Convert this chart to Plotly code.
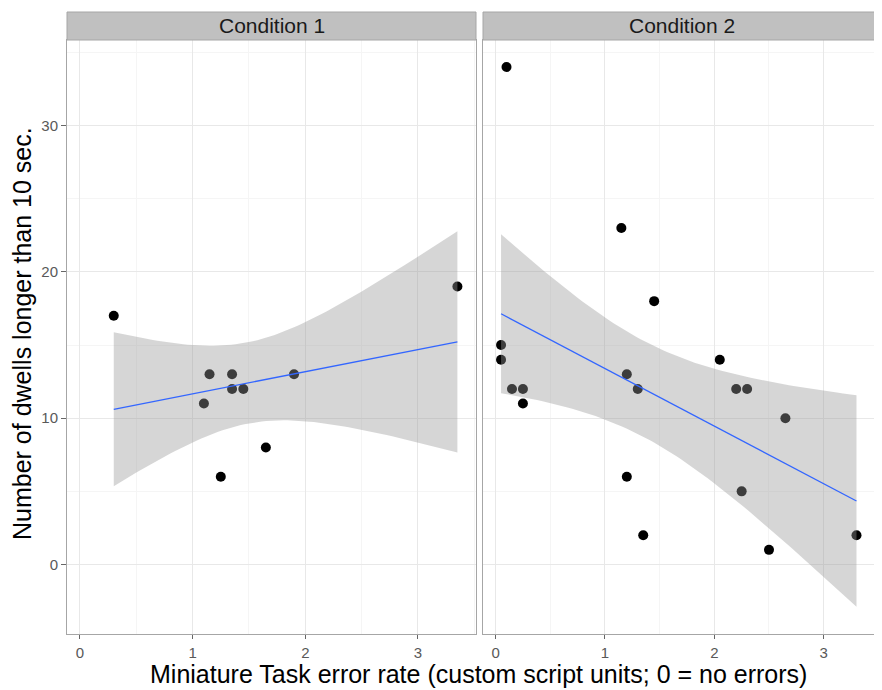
import numpy as np
import plotly.graph_objects as go

# ---- data ----
cond1_x = [0.3, 1.1, 1.15, 1.25, 1.35, 1.35, 1.45, 1.65, 1.9, 3.35]
cond1_y = [17, 11, 13, 6, 13, 12, 12, 8, 13, 19]
cond2_x = [0.05, 0.05, 0.1, 0.15, 0.25, 0.25, 1.15, 1.2, 1.2, 1.3, 1.35, 1.45,
           2.05, 2.2, 2.25, 2.3, 2.5, 2.65, 3.3]
cond2_y = [15, 14, 34, 12, 12, 11, 23, 13, 6, 12, 2, 18,
           14, 12, 5, 12, 1, 10, 2]
panel_labels = ["Condition 1", "Condition 2"]
x_ticks = [0, 1, 2, 3]
y_ticks = [0, 10, 20, 30]
# 95% t quantiles for df = n - 2 (n = 10 and n = 19)
t_quant = {8: 2.306004, 17: 2.109816}

# page has an 8px body margin, so the figure is drawn 8px in from the corner
OFF = 8
W, H = 882 - OFF, 690 - OFF
FONT = "Liberation Sans, Arial, Helvetica, sans-serif"


def px_x(p):
    return (p - OFF) / W


def px_y(p):
    return 1 - (p - OFF) / H


def lm_fit(x, y):
    x = np.asarray(x, float)
    y = np.asarray(y, float)
    n = len(x)
    xm, ym = x.mean(), y.mean()
    sxx = ((x - xm) ** 2).sum()
    b = ((x - xm) * (y - ym)).sum() / sxx
    a = ym - b * xm
    resid = y - (a + b * x)
    s = np.sqrt((resid ** 2).sum() / (n - 2))
    xs = np.linspace(x.min(), x.max(), 80)
    fit = a + b * xs
    se = s * np.sqrt(1.0 / n + (xs - xm) ** 2 / sxx)
    t = t_quant[n - 2]
    return xs, fit, fit - t * se, fit + t * se


fig = go.Figure()

panels = [(cond1_x, cond1_y, "x", "y"), (cond2_x, cond2_y, "x2", "y2")]
for px, py, xa, ya in panels:
    fig.add_trace(go.Scatter(x=px, y=py, mode="markers", xaxis=xa, yaxis=ya,
                             marker=dict(size=10, color="black"),
                             showlegend=False, hoverinfo="skip"))
    xs, fit, lo, hi = lm_fit(px, py)
    fig.add_trace(go.Scatter(x=np.concatenate([xs, xs[::-1]]),
                             y=np.concatenate([hi, lo[::-1]]),
                             fill="toself", fillcolor="rgba(153,153,153,0.4)",
                             line=dict(width=0), mode="lines",
                             xaxis=xa, yaxis=ya, showlegend=False,
                             hoverinfo="skip"))
    fig.add_trace(go.Scatter(x=xs, y=fit, mode="lines", xaxis=xa, yaxis=ya,
                             line=dict(color="#3366FF", width=1.3),
                             showlegend=False, hoverinfo="skip"))

x_range = [-0.115, 3.515]
y_range = [-4.75, 35.85]
d1 = [px_x(67), px_x(476)]
d2 = [px_x(483), min(1.0, px_x(880))]
ydom = [px_y(634), px_y(40)]

grid_major = "#e8e8e8"
grid_minor = "#f5f5f5"
border = "#a6a6a6"
tickfont = dict(family=FONT, size=15, color="#595959")

xcommon = dict(range=x_range, tickvals=x_ticks, showgrid=True,
               gridcolor=grid_major, gridwidth=1, zeroline=False,
               ticks="outside", ticklen=4, tickcolor="#666666",
               ticklabelstandoff=1,
               tickfont=tickfont, showline=True, mirror=True,
               linecolor=border, linewidth=1,
               minor=dict(dtick=0.5, tick0=0, showgrid=True,
                          gridcolor=grid_minor, ticks=""))
ycommon = dict(range=y_range, tickvals=y_ticks, showgrid=True,
               gridcolor=grid_major, gridwidth=1, zeroline=False,
               showline=True, mirror=True, linecolor=border, linewidth=1,
               minor=dict(dtick=5, tick0=0, showgrid=True,
                          gridcolor=grid_minor, ticks=""),
               domain=ydom)

fig.update_layout(
    width=W, height=H,
    margin=dict(l=0, r=0, t=0, b=0),
    paper_bgcolor="white", plot_bgcolor="white",
    font=dict(family=FONT),
    xaxis=dict(domain=d1, anchor="y", **xcommon),
    xaxis2=dict(domain=d2, anchor="y2", **xcommon),
    yaxis=dict(anchor="x", ticks="outside", ticklen=5, tickcolor="#666666",
               tickfont=tickfont, **ycommon),
    yaxis2=dict(anchor="x2", showticklabels=False, ticks="", **ycommon),
)

# facet strips
strip_top = px_y(12)
strip_bot = px_y(40)
for dom, lab in zip([d1, d2], panel_labels):
    fig.add_shape(type="rect", xref="paper", yref="paper",
                  x0=dom[0], x1=dom[1], y0=strip_bot, y1=strip_top,
                  fillcolor="#c0c0c0", line=dict(color="#a6a6a6", width=1),
                  layer="above")
    fig.add_annotation(text=lab, xref="paper", yref="paper",
                       x=(dom[0] + dom[1]) / 2, y=(strip_top + strip_bot) / 2,
                       showarrow=False, xanchor="center", yanchor="middle",
                       font=dict(family=FONT, size=21, color="#1a1a1a"))

# axis titles
fig.add_annotation(text="Miniature Task error rate (custom script units; 0 = no errors)",
                   xref="paper", yref="paper", x=px_x(478), y=px_y(674),
                   showarrow=False, xanchor="center", yanchor="middle",
                   borderpad=0,
                   font=dict(family=FONT, size=25, color="black"))
fig.add_annotation(text="Number of dwells longer than 10 sec.",
                   xref="paper", yref="paper", x=px_x(22), y=px_y(334),
                   showarrow=False, xanchor="center", yanchor="middle",
                   textangle=-90,
                   font=dict(family=FONT, size=25, color="black"))

fig.write_html("out.html")
